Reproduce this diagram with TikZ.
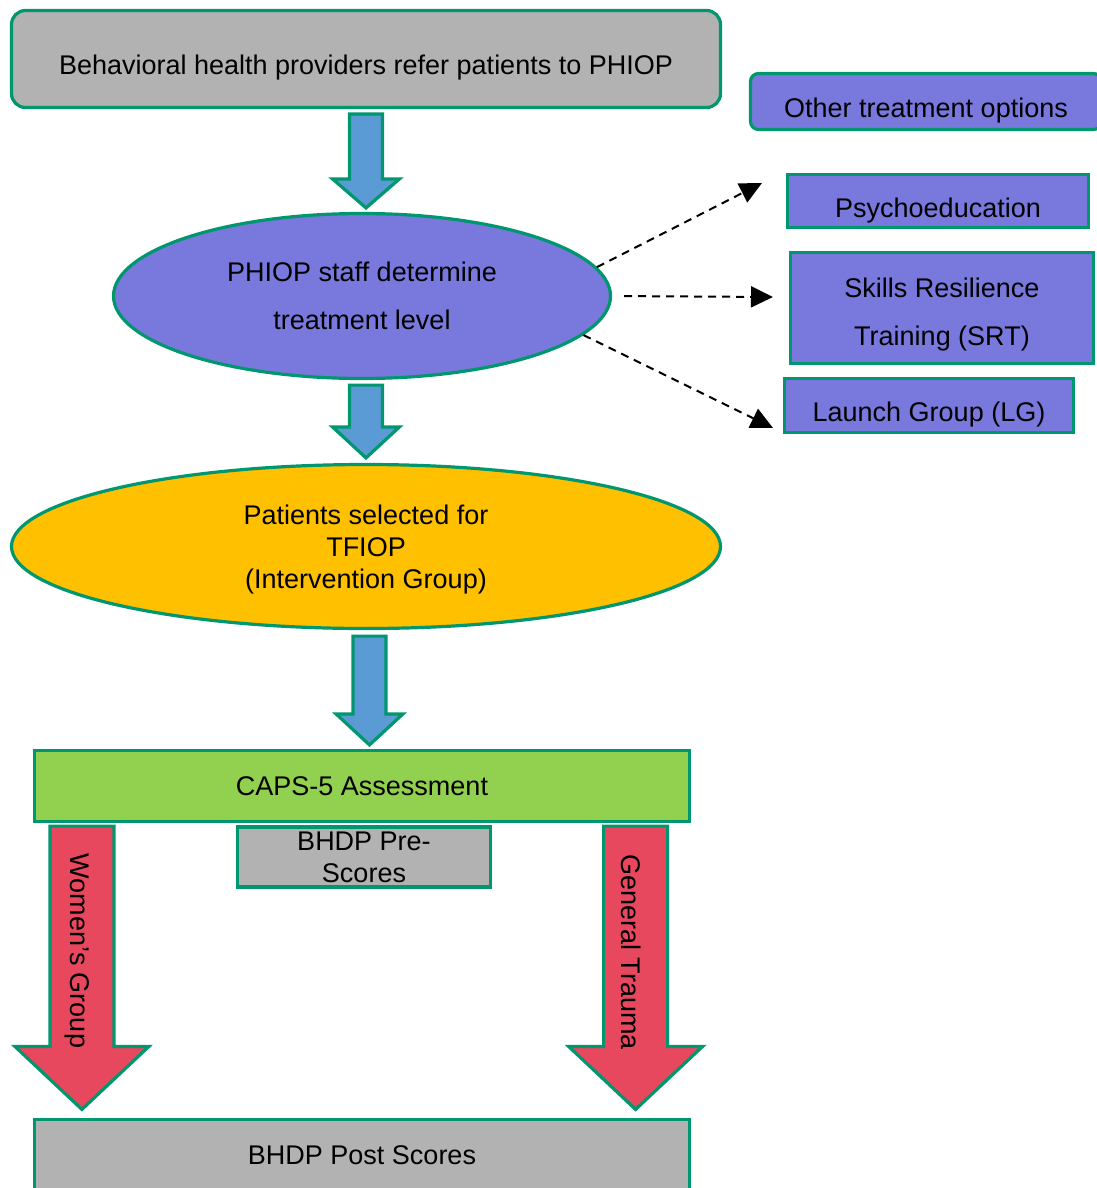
\documentclass[tikz,border=0pt]{standalone}
\usepackage{fontspec}
\setmainfont{Liberation Sans}
\usepackage{tikz}
\usetikzlibrary{arrows.meta,positioning,calc,shapes.geometric}
\definecolor{boxGray}{HTML}{B2B2B2}
\definecolor{edgeGreen}{HTML}{00966E}
\definecolor{optPurple}{HTML}{7878DD}
\definecolor{flowBlue}{HTML}{5B9BD5}
\definecolor{tfGold}{HTML}{FFC000}
\definecolor{capsGreen}{HTML}{92D050}
\definecolor{armRed}{HTML}{E8485E}
\tikzset{
  stage/.style={
    rectangle, draw=edgeGreen, line width=3.2pt,
    align=center, inner sep=0pt,
    font=\fontsize{27pt}{32pt}\selectfont
  },
  refbox/.style={stage, fill=boxGray, rounded corners=14pt,
    minimum width=709pt, minimum height=97pt},
  optbox/.style={stage, fill=optPurple},
  capsbox/.style={stage, fill=capsGreen},
  scorebox/.style={stage, fill=boxGray},
  oval/.style={stage, ellipse},
  wide/.style={font=\fontsize{27pt}{48pt}\selectfont},
  lowtext/.style={text height=32pt, text depth=0pt},
  fatarr/.style={draw=edgeGreen, line width=3.2pt, line join=miter, fill=flowBlue},
  redarr/.style={fatarr, fill=armRed},
  dasharr/.style={dash pattern=on 8pt off 6pt, line width=2pt,
    -{Triangle[length=22pt,width=21pt]}},
  armlabel/.style={font=\fontsize{27pt}{32pt}\selectfont, rotate=-90}
}
% block arrow: [style]{start}{tip}{half shaft}{half head}{head length}
\newcommand{\fatarrow}[6][]{%
  \draw[fatarr,#1] let \p1=(#2), \p2=(#3) in
    (\x1-#4,\y1) -- (\x1+#4,\y1) -- (\x1+#4,\y2+#6) -- (\x1+#5,\y2+#6)
    -- (\x1,\y2) -- (\x1-#5,\y2+#6) -- (\x1-#4,\y2+#6) -- cycle;}
\begin{document}
\begin{tikzpicture}[x=1pt,y=-1pt]
  \useasboundingbox (0,0) rectangle (1096,1188);

  % main column
  \node[refbox, lowtext] (refer) at (366,59)
    {Behavioral health providers refer patients to PHIOP};
  \node[oval, wide, fill=optPurple, minimum width=497pt, minimum height=165pt]
    (phiop) at (362,296) {PHIOP staff determine\\treatment level};
  \node[oval, fill=tfGold, text height=90pt, minimum width=709pt, minimum height=164pt]
    (tfiop) at (366,546.5) {Patients selected for\\TFIOP\\(Intervention Group)};
  \node[capsbox, minimum width=655pt, minimum height=71pt]
    (caps) at (362,786) {CAPS-5 Assessment};
  \node[scorebox, minimum width=253pt, minimum height=60pt]
    (pre) at (364,857) {BHDP Pre-\\Scores};
  \node[scorebox, minimum width=655pt, minimum height=71pt]
    (post) at (362,1155) {BHDP Post Scores};

  % other treatment options
  \node[optbox, lowtext, rounded corners=8pt, minimum width=351pt, minimum height=56pt]
    (other) at (926,101.5) {Other treatment options};
  \node[optbox, lowtext, minimum width=301pt, minimum height=53pt]
    (psy) at (938,201) {Psychoeducation};
  \node[optbox, wide, text height=80pt, minimum width=303pt, minimum height=111pt]
    (srt) at (942,308) {Skills Resilience\\Training (SRT)};
  \node[optbox, lowtext, minimum width=289pt, minimum height=54pt]
    (lg) at (929,405.5) {Launch Group (LG)};

  % blue flow arrows
  \fatarrow{[yshift=-5pt]refer.south}{[yshift=4pt]phiop.north}{16.5pt}{33.5pt}{29pt}
  \fatarrow{[xshift=4pt,yshift=-5pt]phiop.south}{[yshift=5pt]tfiop.north}{16.5pt}{33.5pt}{31pt}
  \fatarrow{[xshift=3.5pt,yshift=-6pt]tfiop.south}{[yshift=4pt]caps.north}{16.5pt}{33.5pt}{31pt}

  % red group arrows
  \coordinate (wgtop) at ([xshift=49pt,yshift=-3pt]caps.south west);
  \coordinate (gttop) at ([xshift=-55.5pt,yshift=-3pt]caps.south east);
  \fatarrow[redarr]{wgtop}{[yshift=8.5pt]post.north}{32pt}{67pt}{63pt}
  \fatarrow[redarr]{gttop}{[yshift=8.5pt]post.north}{32pt}{67pt}{63pt}
  \node[armlabel] (wglab) at (77.5,951) {Women's Group};
  \node[armlabel] (gtlab) at (631,952) {General Trauma};

  % dashed options arrows
  \coordinate (psyin) at (762,183);
  \coordinate (srtin) at (773,297);
  \coordinate (lgin) at (773,428);
  \draw[dasharr] (phiop.7) -- (psyin);
  \draw[dasharr, shorten <=12pt] (phiop.east) -- (srtin);
  \draw[dasharr] (phiop.-10) -- (lgin);
\end{tikzpicture}
\end{document}
